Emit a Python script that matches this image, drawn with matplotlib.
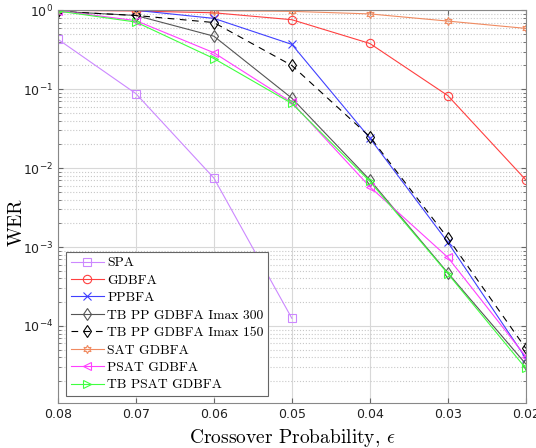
import matplotlib
matplotlib.use('Agg')
import matplotlib.pyplot as plt
from matplotlib.ticker import LogLocator, NullFormatter

eps = [0.08, 0.07, 0.06, 0.05, 0.04, 0.03, 0.02]

spa = [0.43, 0.088, 0.0075, 1.25e-4]
gdbfa = [1.0, 0.98, 0.93, 0.76, 0.38, 0.083, 0.0071]
ppbfa = [1.0, 1.0, 0.79, 0.37, 0.024, 1.15e-3, 3.9e-5]
tb_pp_300 = [0.97, 0.86, 0.47, 0.077, 0.0071, 4.7e-4, 3.3e-5]
tb_pp_150 = [0.97, 0.86, 0.70, 0.20, 0.025, 1.3e-3, 5.2e-5]
sat_gdbfa = [1.0, 1.0, 0.99, 0.97, 0.90, 0.73, 0.59]
psat_gdbfa = [0.99, 0.74, 0.29, 0.068, 0.0058, 7.4e-4, 4.1e-5]
tb_psat = [0.98, 0.71, 0.245, 0.066, 0.0068, 4.6e-4, 2.9e-5]

fig = plt.figure(figsize=(5.36, 4.48), dpi=100)
ax = fig.add_axes([0.108, 0.100, 0.873, 0.877])

mk = dict(markerfacecolor='none', markersize=6, linewidth=0.8, markeredgewidth=0.8)
ax.semilogy(eps[:4], spa, '-s', color='#cc88ff', label='SPA', **mk)
ax.semilogy(eps, gdbfa, '-o', color='#ff4040', label='GDBFA', **mk)
ax.semilogy(eps, ppbfa, '-x', color='#4040ff', label='PPBFA', **mk)
ax.semilogy(eps, tb_pp_300, '-d', color='#555555', label='TB PP GDBFA Imax 300', **mk)
ax.semilogy(eps, tb_pp_150, '--d', color='black', dashes=(6, 5),
            label='TB PP GDBFA Imax 150', **mk)
ax.semilogy(eps, sat_gdbfa, '-', marker=(6, 1, 0), color='#f08a60', label='SAT GDBFA', **mk)
ax.semilogy(eps, psat_gdbfa, '-<', color='#ff40ff', label='PSAT GDBFA', **mk)
ax.semilogy(eps, tb_psat, '->', color='#40ff40', label='TB PSAT GDBFA', **mk)

ax.set_xlim(0.08, 0.02)
ax.set_ylim(1.05e-5, 1)
ax.set_xticks(eps)
ax.set_xticklabels(['%.2f' % e for e in eps])
ax.yaxis.set_major_locator(LogLocator(base=10, numticks=10))
ax.yaxis.set_minor_locator(LogLocator(base=10, subs=range(2, 10), numticks=100))
ax.yaxis.set_minor_formatter(NullFormatter())

ax.grid(True, which='major', color='#d8d8d8', linewidth=0.8)
ax.grid(True, which='minor', axis='y', color='#c8c8c8', linestyle=':', linewidth=0.8)
ax.set_axisbelow(True)

for s in ax.spines.values():
    s.set_color('#888888')
ax.tick_params(which='both', direction='in', top=True, right=True, colors='#666666',
               labelcolor='#222222', labelsize=9)

ax.set_xlabel(r'Crossover Probability, $\epsilon$', fontsize=14, family='cmr10',
              math_fontfamily='cm')
ax.set_ylabel('WER', fontsize=14, family='cmr10')
ax.yaxis.set_label_coords(-0.068, 0.46)

leg = ax.legend(loc='lower left', bbox_to_anchor=(0.018, 0.018), prop={'family': 'cmr10', 'size': 9.8},
                fancybox=False, edgecolor='#666666', framealpha=1, borderpad=0.35,
                labelspacing=0.36, handlelength=2.4, handletextpad=0.25, borderaxespad=0)
leg.get_frame().set_linewidth(0.8)

fig.savefig('out.png', dpi=100)
